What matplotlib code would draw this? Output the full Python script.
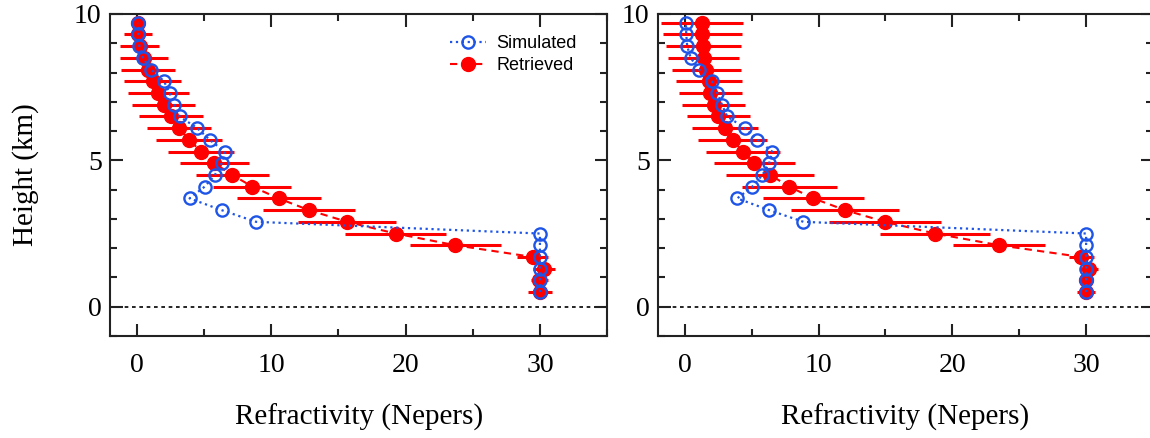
import matplotlib
matplotlib.use('Agg')
import matplotlib.pyplot as plt
from matplotlib.ticker import MultipleLocator

plt.rcParams['font.family'] = ['Liberation Serif', 'DejaVu Serif']

# heights of the retrieval levels (km), bottom to top
heights = [0.5, 0.9, 1.3, 1.7, 2.1, 2.5, 2.9, 3.3, 3.7, 4.1, 4.5, 4.9,
           5.3, 5.7, 6.1, 6.5, 6.9, 7.3, 7.7, 8.1, 8.5, 8.9, 9.3, 9.7]

# simulated (true) profile, same in both panels
simulated = [30.0, 30.0, 30.0, 30.0, 30.0, 30.0, 8.87, 6.3, 3.92, 5.04, 5.8, 6.31,
             6.53, 5.42, 4.49, 3.17, 2.78, 2.43, 2.02, 1.07, 0.44, 0.18, 0.11, 0.08]

# left panel retrieval
retr_left = [30.0, 29.95, 30.3, 29.45, 23.7, 19.25, 15.65, 12.8, 10.55, 8.6, 7.1, 5.77,
             4.78, 3.88, 3.13, 2.54, 2.0, 1.6, 1.17, 0.85, 0.5, 0.2, 0.1, 0.05]
err_left = [0.88, 0.65, 0.85, 1.16, 3.38, 3.74, 3.63, 3.42, 3.13, 2.9, 2.7, 2.58,
            2.46, 2.45, 2.4, 2.39, 2.34, 2.27, 2.14, 2.0, 1.79, 1.47, 1.05, 0.3]

# right panel retrieval
retr_right = [30.0, 30.0, 30.2, 29.63, 23.49, 18.7, 14.97, 11.98, 9.62, 7.81, 6.39, 5.2,
              4.33, 3.58, 2.98, 2.49, 2.16, 1.92, 1.79, 1.62, 1.42, 1.37, 1.3, 1.3]
err_right = [0.66, 0.5, 0.68, 0.93, 3.44, 4.1, 4.19, 4.04, 3.79, 3.57, 3.28, 3.02,
             2.76, 2.59, 2.47, 2.36, 2.34, 2.34, 2.47, 2.57, 2.67, 2.8, 2.95, 3.05]

BLUE = '#1f55e6'
RED = '#ff0000'


def panel(ax, retr, err):
    ax.axhline(0, color='black', ls=(0, (2.2, 2.2)), lw=1.2, zorder=1)
    ax.errorbar(retr, heights, xerr=err, fmt='none', ecolor=RED, elinewidth=2.2,
                capsize=0, zorder=2)
    r, = ax.plot(retr, heights, ls=(0, (3.5, 2.5)), lw=1.5, color=RED, marker='o',
                 ms=10, mfc=RED, mec=RED, zorder=3, label='Retrieved')
    s, = ax.plot(simulated, heights, ls=':', lw=1.6, color=BLUE, marker='o', ms=8.8,
                 mfc='none', mec=BLUE, mew=1.7, zorder=4, label='Simulated')

    ax.set_xlim(-2, 35)
    ax.set_ylim(-1, 10)
    ax.xaxis.set_major_locator(MultipleLocator(10))
    ax.xaxis.set_minor_locator(MultipleLocator(5))
    ax.yaxis.set_major_locator(MultipleLocator(5))
    ax.yaxis.set_minor_locator(MultipleLocator(1))
    ax.tick_params(which='both', direction='in', top=True, right=True, width=1.5,
                   labelsize=20, color='#222222')
    ax.tick_params(which='major', length=9)
    ax.tick_params(which='minor', length=5)
    ax.tick_params(axis='x', pad=12)
    ax.tick_params(axis='y', pad=6)
    for sp in ax.spines.values():
        sp.set_linewidth(1.5)
        sp.set_color('#222222')
    ax.set_xlabel('Refractivity (Nepers)', fontsize=21, labelpad=19)
    return s, r


fig = plt.figure(figsize=(11.5, 4.38), dpi=100)
ax1 = fig.add_axes([0.0957, 0.2329, 0.4322, 0.7352])
ax2 = fig.add_axes([0.5722, 0.2329, 0.4304, 0.7352])

s, r = panel(ax1, retr_left, err_left)
panel(ax2, retr_right, err_right)

ax1.set_ylabel('Height (km)', fontsize=21, labelpad=25)
ax1.legend(handles=[s, r], loc='upper right', bbox_to_anchor=(0.972, 0.985),
           frameon=False, prop={'family': 'Liberation Sans', 'size': 13},
           handlelength=2.0, handletextpad=0.6, labelspacing=0.3)

fig.savefig('out.png', dpi=100)
